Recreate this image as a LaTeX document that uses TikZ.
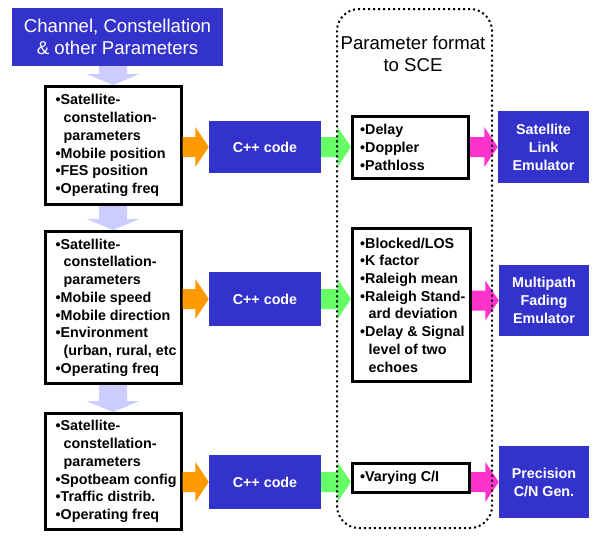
\documentclass[tikz,border=0pt]{standalone}
\usepackage{fontspec}
\setmainfont{Liberation Sans}
\usetikzlibrary{calc}
\definecolor{boxblue}{HTML}{3333CC}
\definecolor{lavender}{HTML}{CCCCFF}
\definecolor{arrorange}{HTML}{FF9900}
\definecolor{arrgreen}{HTML}{66FF66}
\definecolor{arrmagenta}{HTML}{FF33CC}

% horizontal block arrow: colour, start point, tip point
\newcommand{\blockarrowh}[3]{%
  \fill[#1] let \p1=(#2), \p2=(#3) in
    (\x1,{\y1+10pt}) -- ({\x2-13.5pt},{\y1+10pt}) -- ({\x2-13.5pt},{\y1+20pt})
    -- (\x2,\y1) -- ({\x2-13.5pt},{\y1-20pt}) -- ({\x2-13.5pt},{\y1-10pt})
    -- (\x1,{\y1-10pt}) -- cycle;}
% vertical (downward) block arrow: colour, start point, tip point
\newcommand{\blockarrowv}[3]{%
  \fill[#1] let \p1=(#2), \p2=(#3) in
    ({\x2-14pt},\y1) -- ({\x2-14pt},{\y2+11pt}) -- ({\x2-26.5pt},{\y2+11pt})
    -- (\x2,\y2) -- ({\x2+26.5pt},{\y2+11pt}) -- ({\x2+14pt},{\y2+11pt})
    -- ({\x2+14pt},\y1) -- cycle;}

\begin{document}
\begin{tikzpicture}[x=1pt,y=-1pt,
  panel/.style={draw=black, line width=3pt, fill=white, inner sep=0pt},
  bluebox/.style={fill=boxblue, text=white, inner sep=0pt, align=center,
    font=\bfseries\fontsize{14.3}{18}\selectfont},
  listtext/.style={anchor=west, inner sep=0pt, align=left,
    font=\bfseries\fontsize{14.3}{17.7}\selectfont},
  bigtext/.style={inner sep=0pt, align=center,
    font=\fontsize{18.6}{22}\selectfont}]
\useasboundingbox (0,0) rectangle (595,536);

% header
\node[bigtext, fill=boxblue, text=white, minimum width=211pt, minimum height=58pt]
  (title) at (117.5,37) {Channel, Constellation\\\& other Parameters};

% input parameter panels
\node[panel, minimum width=136pt, minimum height=118pt] (b1) at (113,145.5) {};
\node[panel, minimum width=136pt, minimum height=152pt] (b2) at (113,307.5) {};
\node[panel, minimum width=136pt, minimum height=116pt] (b3) at (113,471.5) {};

\node[listtext] (b1t) at ([xshift=12pt]b1.west) {%
  •Satellite-\\\hspace*{8pt}constellation-\\\hspace*{8pt}parameters\\
  •Mobile position\\•FES position\\•Operating freq};
\node[listtext] (b2t) at ([xshift=12pt]b2.west) {%
  •Satellite-\\\hspace*{8pt}constellation-\\\hspace*{8pt}parameters\\
  •Mobile speed\\•Mobile direction\\•Environment\\
  \hspace*{8pt}(urban, rural, etc\\•Operating freq};
\node[listtext] (b3t) at ([xshift=12pt]b3.west) {%
  •Satellite-\\\hspace*{8pt}constellation-\\\hspace*{8pt}parameters\\
  •Spotbeam config\\•Traffic distrib.\\•Operating freq};

% code generators
\node[bluebox, minimum width=112pt, minimum height=52pt] (c1) at (265,147) {C++ code};
\node[bluebox, minimum width=112pt, minimum height=54pt] (c2) at (265,299) {C++ code};
\node[bluebox, minimum width=112pt, minimum height=54pt] (c3) at (265,482) {C++ code};

% formatted parameters
\node[panel, minimum width=116pt, minimum height=62pt] (p1) at (410.5,147.5) {};
\node[panel, minimum width=118pt, minimum height=153pt] (p2) at (411.5,305) {};
\node[panel, minimum width=117pt, minimum height=29pt] (p3) at (411,478) {};

\node[listtext] (p1t) at ([xshift=9pt]p1.west) {•Delay\\•Doppler\\•Pathloss};
\node[listtext] (p2t) at ([xshift=9pt]p2.west) {%
  •Blocked/LOS\\•K factor\\•Raleigh mean\\•Raleigh Stand-\\
  \hspace*{8.5pt}ard deviation\\•Delay \& Signal\\
  \hspace*{8.5pt}level of two\\\hspace*{8.5pt}echoes};
\node[listtext] (p3t) at ([xshift=9pt]p3.west) {•Varying C/I};

% emulators
\node[bluebox, minimum width=91pt, minimum height=72pt] (e1) at (543.5,147) {Satellite\\Link\\Emulator};
\node[bluebox, minimum width=90pt, minimum height=71pt] (e2) at (544,300.5) {Multipath\\Fading\\Emulator};
\node[bluebox, minimum width=90pt, minimum height=72pt] (e3) at (544,482) {Precision\\C/N Gen.};

% downward flow between the parameter panels
\blockarrowv{lavender}{title.south -| b1.north}{b1.north}
\blockarrowv{lavender}{b1.south}{b2.north}
\blockarrowv{lavender}{b2.south}{b3.north}

% panels -> code
\blockarrowh{arrorange}{b1.east |- c1.west}{c1.west}
\blockarrowh{arrorange}{b2.east |- c2.west}{c2.west}
\blockarrowh{arrorange}{b3.east |- c3.west}{c3.west}

% code -> formatted parameters
\blockarrowh{arrgreen}{c1.east}{p1.west |- c1.east}
\blockarrowh{arrgreen}{c2.east}{p2.west |- c2.east}
\blockarrowh{arrgreen}{c3.east}{p3.west |- c3.east}

% formatted parameters -> emulators
\blockarrowh{arrmagenta}{p1.east |- e1.west}{e1.west}
\blockarrowh{arrmagenta}{p2.east |- e2.west}{e2.west}
\blockarrowh{arrmagenta}{p3.east |- e3.west}{e3.west}

% SCE interface frame
\node[draw=black, line width=2pt, dash pattern=on 2pt off 3pt, rounded corners=22pt,
  minimum width=155pt, minimum height=519pt, inner sep=0pt] (sce) at (414.5,268.5) {};
\node[bigtext] (scelabel) at (413,54) {Parameter format\\to SCE};
\end{tikzpicture}
\end{document}
